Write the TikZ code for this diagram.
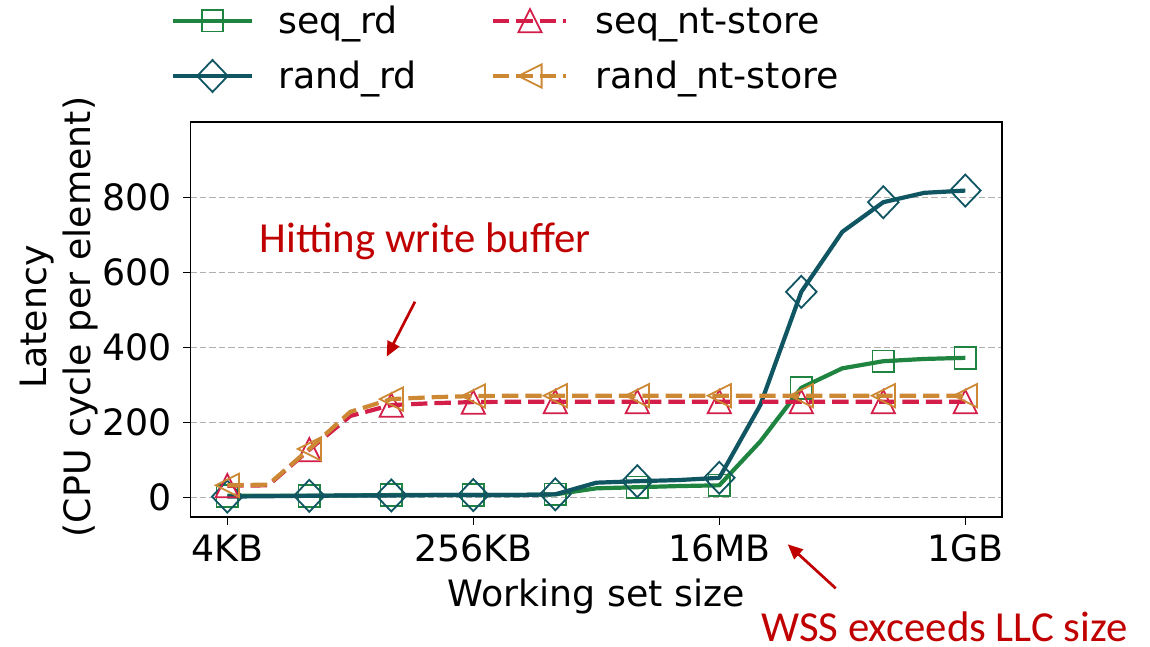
\documentclass[tikz,border=0pt]{standalone}
\usepackage{fontspec}
\setmainfont{DejaVu Sans}
\newfontfamily\annfont{Carlito}
\usetikzlibrary{arrows.meta}
\definecolor{sr}{RGB}{31,132,64}
\definecolor{rr}{RGB}{15,85,98}
\definecolor{sn}{RGB}{210,30,72}
\definecolor{rn}{RGB}{205,136,52}
\definecolor{annc}{RGB}{192,0,0}
\definecolor{gridc}{RGB}{176,176,176}
\tikzset{lab/.style={inner sep=0pt,font=\fontsize{36.3}{43}\selectfont},
 ann/.style={inner sep=0pt,text=annc,font=\annfont\fontsize{42.8}{50}\selectfont},
 annarr/.style={draw=annc,line width=2.7pt,-{Triangle[length=15pt,width=13pt]}},
 sline/.style={line width=4.2pt,line join=round},
 dline/.style={sline,dash pattern=on 16.4pt off 7pt},
 mk/.style={line width=1.8pt,fill=none},
 gridl/.style={draw=gridc,line width=1.3pt,dash pattern=on 6.5pt off 3pt},
 frame/.style={line width=1.8pt},tick/.style={line width=1.5pt},
 sqm/.pic={\draw[mk,draw=sr] (-10.8pt,-10.8pt) rectangle (10.8pt,10.8pt);},
 dim/.pic={\draw[mk,draw=rr] (-15.3pt,0pt)--(0pt,16pt)--(15.3pt,0pt)--(0pt,-16pt)--cycle;},
 tum/.pic={\draw[mk,draw=sn] (0pt,11.6pt)--(-11.6pt,-11.6pt)--(11.6pt,-11.6pt)--cycle;},
 tlm/.pic={\draw[mk,draw=rn] (-11.6pt,0pt)--(11.6pt,11.6pt)--(11.6pt,-11.6pt)--cycle;}}

\begin{document}
\begin{tikzpicture}[x=1pt,y=1pt]
\useasboundingbox (0,0) rectangle (1150,646);
% data area: index i (one step per doubling, 4KB..1GB), latency in cycles
\begin{scope}[shift={(227.3,148.3)},x=41pt,y=0.375pt]
\coordinate (bl) at (-0.898,-51.5);
\coordinate (tr) at (18.895,1001.9);
\foreach \v in {0,200,...,800}{
 \draw[gridl] (-0.898,\v)--(18.895,\v);
 \draw[tick] (-0.898,\v)--++(-7.5pt,0pt);
 \node[lab,anchor=east] (yt\v) at (-1.346,\v) {\v};}
\foreach \i/\t in {0/4KB,6/256KB,12/16MB,18/1GB}{
 \draw[tick] (\i,-51.5)--++(0pt,-7.5pt);
 \node[lab,anchor=base] (xt\i) at (\i,-168.8) {\t};}
% seq_rd
\draw[sline,sr] plot coordinates {(0,5) (1,5) (2,5) (3,6) (4,7) (5,7) (6,7) (7,7) (8,9) (9,25)
 (10,28) (11,31) (12,33) (13,150) (14,293) (15,345) (16,364) (17,370) (18,373)};
\foreach \i/\v in {0/5,2/5,4/7,6/7,8/9,10/28,12/33,14/293,16/364,18/373}
 \pic at (\i,\v) {sqm};
% rand_rd
\draw[sline,rr] plot coordinates {(0,3) (1,4) (2,5) (3,6) (4,6) (5,7) (6,7) (7,7) (8,9) (9,40)
 (10,44) (11,47) (12,53) (13,247) (14,549) (15,709) (16,788) (17,813) (18,819)};
\foreach \i/\v in {0/3,2/5,4/6,6/7,8/9,10/44,12/53,14/549,16/788,18/819}
 \pic at (\i,\v) {dim};
% seq_nt-store
\draw[dline,sn] plot coordinates {(0,32) (1,33) (2,128) (3,218) (4,247) (5,252) (6,255) (7,256)
 (8,256) (9,256) (10,256) (11,256) (12,256) (13,256) (14,256) (15,256) (16,256) (17,256) (18,256)};
\foreach \i/\v in {0/32,2/128,4/247,6/255,8/256,10/256,12/256,14/256,16/256,18/256}
 \pic at (\i,\v) {tum};
% rand_nt-store
\draw[dline,rn] plot coordinates {(0,33) (1,35) (2,130) (3,229) (4,263) (5,268) (6,271) (7,272)
 (8,272) (9,272) (10,272) (11,272) (12,272) (13,272) (14,272) (15,272) (16,272) (17,272) (18,272)};
\foreach \i/\v in {0/33,2/130,4/263,6/271,8/272,10/272,12/272,14/272,16/272,18/272}
 \pic at (\i,\v) {tlm};
\draw[frame] (bl) rectangle (tr);
\end{scope}
% axis titles
\node[lab,rotate=90,anchor=base] (ylab1) at (46.5,329) {Latency};
\node[lab,rotate=90,anchor=base] (ylab2) at (90,329) {(CPU cycle per element)};
\node[lab,anchor=base] (xlab) at (596,39.5) {Working set size};
% legend
\draw[sline,sr] (173,625.3)--(252,625.3); \pic at (212.5,625.3) {sqm};
\draw[sline,rr] (173,570)--(252,570); \pic at (212.5,570) {dim};
\draw[dline,sn] (493,625.3)--(566,625.3); \pic at (530,625.3) {tum};
\draw[dline,rn] (493,570)--(566,570); \pic at (530,570) {tlm};
\node[lab,anchor=base west] (lgsr) at (278,612) {seq\_rd};
\node[lab,anchor=base west] (lgrr) at (278,557) {rand\_rd};
\node[lab,anchor=base west] (lgsn) at (595,612) {seq\_nt-store};
\node[lab,anchor=base west] (lgrn) at (595,557) {rand\_nt-store};
% annotations
\node[ann,anchor=base west] (hwb) at (259.5,393.3) {Hitting write buffer};
\node[ann,anchor=base west] (wss) at (761,4.8) {WSS exceeds LLC size};
\coordinate (hwtail) at (415,344.3);
\coordinate (hwtip) at (386.7,289.3);
\coordinate (wsstail) at (835.7,57.7);
\coordinate (wsstip) at (787.7,101.7);
\draw[annarr] (hwtail)--(hwtip);
\draw[annarr] (wsstail)--(wsstip);
\end{tikzpicture}
\end{document}
